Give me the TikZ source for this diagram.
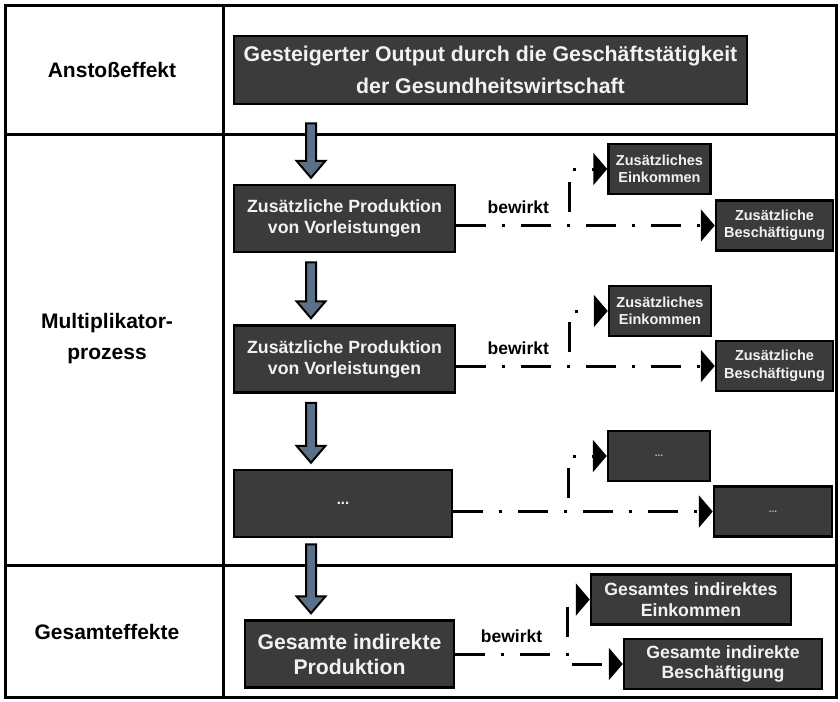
\documentclass[tikz,border=0pt]{standalone}
\usepackage{fontspec}
\setmainfont{Liberation Sans}
\usepackage{xcolor}
\definecolor{box-grey}{HTML}{3B3B3B}
\definecolor{box-text}{HTML}{F2F2F2}
\definecolor{dots-grey}{HTML}{BBBBBB}
\definecolor{arrow-blue}{HTML}{5B7089}
\usetikzlibrary{arrows.meta}
\usetikzlibrary{calc}
\tikzset{box/.style = {draw, line width=2.5pt, fill=box-grey, text=box-text, align=center, text centered, inner sep=0pt}}
\tikzset{prod/.style = {box, minimum width=221pt, minimum height=67pt, font=\bfseries\fontsize{17.7}{21}\selectfont}}
\tikzset{effect/.style = {box, minimum width=102pt, minimum height=50pt, font=\bfseries\fontsize{14.5}{17.5}\selectfont}}
\tikzset{stage/.style = {align=center, font=\bfseries\fontsize{21}{31}\selectfont}}
\tikzset{note/.style = {inner sep=0pt, font=\bfseries\fontsize{17.5}{19}\selectfont}}
\tikzset{arr/.style = {line width=3pt, dash pattern=on 30pt off 16pt on 3pt off 16pt, -{Triangle[length=14pt, width=32pt]}}}
\tikzset{flow/.style = {draw=black, line width=2pt, fill=arrow-blue, line join=miter}}
\tikzset{grid/.style = {line width=3pt}}

% block arrow from #2 down to #3, #1 = gap below #2
\newcommand{\flowdown}[3][9]{%
  \draw[flow] let \p1 = (flowx |- #2.south), \p2 = (flowx |- #3.north) in
    (\x1-5pt, \y1-#1pt) -- (\x1-5pt, \y2+23pt) -- (\x1-14.5pt, \y2+23pt) -- (\x1, \y2+6pt)
    -- (\x1+14.5pt, \y2+23pt) -- (\x1+5pt, \y2+23pt) -- (\x1+5pt, \y1-#1pt) -- cycle;
}

\begin{document}
\begin{tikzpicture}[x=1pt, y=-1pt]
\useasboundingbox (0,0) rectangle (840,701);

% table
\draw[grid] (5,6) rectangle (836,697);
\draw[grid] (223,6) -- (223,697);
\draw[grid] (5,134) -- (836,134);
\draw[grid] (5,565) -- (836,565);

\node[stage] (s1) at (112,70) {Anstoßeffekt};
\node[stage] (s2) at (107,339) {Multiplikator-\\prozess};
\node[stage] (s3) at (107,632) {Gesamteffekte};

% main column
\node[box, minimum width=513pt, minimum height=68pt, font=\bfseries\fontsize{21.3}{32}\selectfont] (top) at (490.5,70) {Gesteigerter Output durch die Geschäftstätigkeit\\der Gesundheitswirtschaft};
\node[prod] (p1) at (344.5,218.5) {Zusätzliche Produktion\\von Vorleistungen};
\node[prod] (p2) at (344.5,359) {Zusätzliche Produktion\\von Vorleistungen};
\node[prod, minimum width=218pt, font=\bfseries\fontsize{15}{17}\selectfont] (p3) at (343,503.5) {...};
\node[prod, minimum width=209pt, font=\bfseries\fontsize{21.2}{25}\selectfont] (g) at (349.5,654) {Gesamte indirekte\\Produktion};
\coordinate (flowx) at (311,0);

% effects
\node[effect] (e1) at (659.5,169) {Zusätzliches\\Einkommen};
\node[effect, minimum width=117pt] (b1) at (774.5,225.5) {Zusätzliche\\Beschäftigung};
\node[effect] (e2) at (660,311) {Zusätzliches\\Einkommen};
\node[effect, minimum width=117pt] (b2) at (774.5,366) {Zusätzliche\\Beschäftigung};
\node[effect, text=dots-grey, font=\bfseries\fontsize{10}{12}\selectfont] (e3) at (659,456) {...};
\node[effect, minimum width=118pt, text=dots-grey, font=\bfseries\fontsize{10}{12}\selectfont] (b3) at (773,511.5) {...};
\node[effect, minimum width=200pt, font=\bfseries\fontsize{17.7}{20.5}\selectfont] (ge) at (691,599.5) {Gesamtes indirektes\\Einkommen};
\node[effect, minimum width=198pt, font=\bfseries\fontsize{17.7}{20.5}\selectfont] (gb) at (723,664) {Gesamte indirekte\\Beschäftigung};

\flowdown[18]{top}{p1}
\flowdown{p1}{p2}
\flowdown{p2}{p3}
\flowdown[6]{p3}{g}

\draw[arr] (b1.west -| p1.east) -- (b1.west) node[pos=.24, above=10pt, note]{bewirkt};
\draw[arr, dash phase=51pt] ([xshift=-38pt]e1.west |- b1.west) |- (e1.west);
\draw[arr] (b2.west -| p2.east) -- (b2.west) node[pos=.24, above=10pt, note]{bewirkt};
\draw[arr, dash phase=51pt] ([xshift=-38pt]e2.west |- b2.west) |- (e2.west);
\draw[arr] (b3.west -| p3.east) -- (b3.west);
\draw[arr, dash phase=51pt] ([xshift=-38pt]e3.west |- b3.west) |- (e3.west);
\draw[arr] (g.east) -- ([xshift=-22pt]ge.west |- g.east) node[midway, above=10pt, note]{bewirkt} -- ([xshift=-22pt]ge.west) -- (ge.west);
\draw[arr, dash phase=51pt] ([xshift=-22pt]ge.west |- g.east) |- (gb.west);

\end{tikzpicture}
\end{document}
